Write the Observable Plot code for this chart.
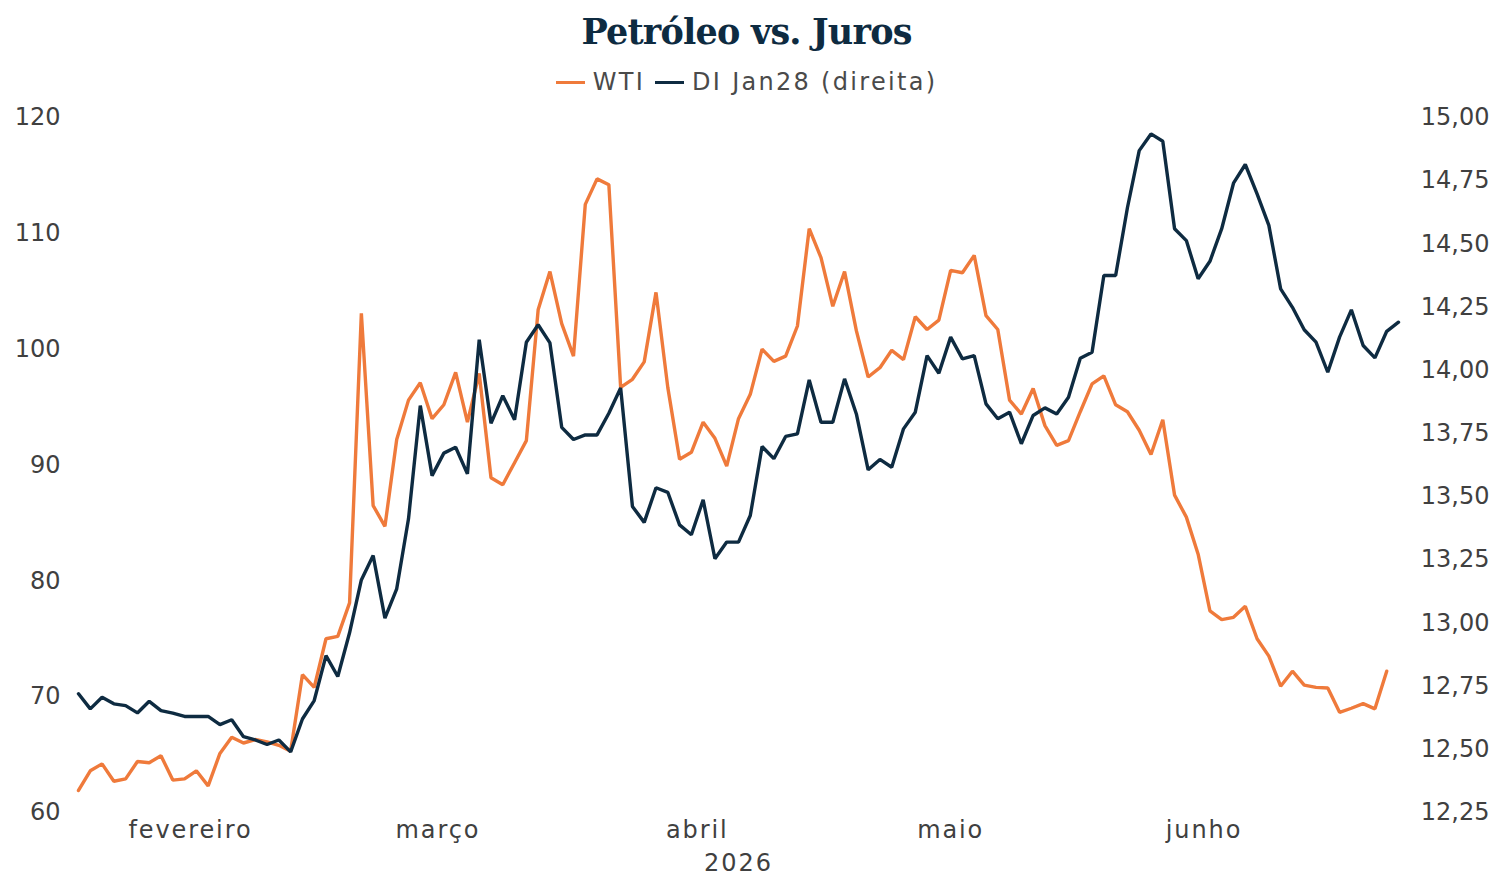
<!DOCTYPE html>
<html><head><meta charset="utf-8">
<script src="https://cdn.jsdelivr.net/npm/d3@7"></script>
<script src="https://cdn.jsdelivr.net/npm/@observablehq/plot@0.6"></script>
<style>
body{margin:0;background:#fff;width:1493px;height:875px;overflow:hidden;font-family:"DejaVu Sans",sans-serif}
#title{height:58px;box-sizing:border-box;padding-top:12px;text-align:center;font-family:"DejaVu Serif",serif;font-weight:bold;font-size:35px;line-height:40px;color:#0E2B41;letter-spacing:-0.8px}
#legend{height:42px;box-sizing:border-box;padding-top:6px;display:flex;justify-content:center;align-items:center;font-size:24px;line-height:28px;color:#4a4a4a;letter-spacing:2.3px}
.sw{display:inline-block;width:29px;height:3px;margin-right:8px;vertical-align:middle}
.item{display:flex;align-items:center;margin:0 5px}
#chart svg{display:block}
#chart g[aria-label="x-axis tick label"] text{letter-spacing:1.9px}
#chart g[aria-label="text"] text{letter-spacing:2px}
</style>
</head><body>
<div id="title">Petróleo vs. Juros</div>
<div id="legend"></div>
<div id="chart"></div>
<script>
// Series (trading days, Feb–early Jul 2026)
const wti = [61.9,63.6,64.2,62.7,62.9,64.4,64.3,64.9,62.8,62.9,
63.6,62.3,65.1,66.5,66.0,66.3,66.1,65.8,65.3,71.9,
70.8,75.0,75.2,78.1,103.1,86.5,84.7,92.2,95.6,97.1,
94.0,95.2,98.0,93.7,97.9,88.9,88.3,90.2,92.1,103.4,
106.7,102.2,99.4,112.5,114.7,114.2,96.7,97.4,98.9,104.9,
96.7,90.5,91.1,93.7,92.3,89.9,94.0,96.1,100.0,98.95,
99.4,102.0,110.4,107.9,103.7,106.7,101.6,97.6,98.4,99.9,
99.1,102.8,101.7,102.5,106.8,106.6,108.1,102.9,101.7,95.6,
94.4,96.6,93.4,91.7,92.1,94.6,97.0,97.7,95.2,94.6,
93.0,90.9,93.9,87.4,85.5,82.3,77.4,76.65,76.85,77.8,
75.0,73.5,70.9,72.2,71.0,70.8,70.75,68.65,69.0,69.4,
68.95,72.2];
const di = [12.72,12.66,12.706,12.68,12.673,12.644,12.69,12.653,12.643,12.63,
12.63,12.63,12.598,12.617,12.55,12.537,12.519,12.537,12.49,12.62,
12.693,12.871,12.788,12.961,13.17,13.267,13.019,13.135,13.412,13.86,
13.583,13.672,13.695,13.59,14.121,13.79,13.899,13.804,14.111,14.18,
14.108,13.774,13.726,13.744,13.744,13.83,13.93,13.461,13.398,13.535,
13.517,13.388,13.349,13.487,13.254,13.32,13.32,13.425,13.698,13.65,
13.738,13.748,13.962,13.794,13.794,13.966,13.827,13.606,13.647,13.616,
13.768,13.834,14.058,13.988,14.131,14.045,14.058,13.867,13.808,13.834,
13.709,13.821,13.851,13.827,13.893,14.047,14.071,14.375,14.375,14.643,
14.869,14.935,14.906,14.56,14.513,14.362,14.431,14.56,14.74,14.814,
14.698,14.573,14.322,14.249,14.16,14.111,13.992,14.131,14.239,14.098,
14.049,14.154,14.19];
const monthLabels = ["fevereiro","março","abril","maio","junho"];
const monthDays = [20,22,22,21,22];
const yearLabel = "2026";
const leftTicks = [60,70,80,90,100,110,120];
const rightTicks = [12.25,12.5,12.75,13,13.25,13.5,13.75,14,14.25,14.5,14.75,15];
const seriesNames = ["WTI","DI Jan28 (direita)"];
const colors = ["#EF7A3B","#0E2B41"];

// legend
const leg = document.getElementById("legend");
seriesNames.forEach((n,k)=>{
  const it = document.createElement("span"); it.className="item";
  it.innerHTML = `<span class="sw" style="background:${colors[k]}"></span>${n}`;
  leg.appendChild(it);
});

// month centers (category index)
let start = 0; const monthCenters = [];
monthDays.forEach(n=>{ monthCenters.push(start + (n-1)/2); start += n; });

const toLeft = d3.scaleLinear([12.25,15],[60,120]);
const wtiRows = wti.map((v,i)=>({i, v}));
const diRows = di.map((v,i)=>({i, v: toLeft(v)}));
const fmt = v => v.toFixed(2).replace(".",",");
const txt = "#404040";

const chart = Plot.plot({
  width:1493, height:775,
  marginTop:17, marginBottom:63, marginLeft:78, marginRight:95,
  x:{domain:[0, di.length-1], axis:null},
  y:{domain:[60,120], axis:null},
  style:{fontFamily:"'DejaVu Sans', sans-serif", fontSize:"24px", color:txt, background:"#fff"},
  marks:[
    Plot.axisY({anchor:"left", ticks:leftTicks, tickSize:0, tickPadding:18, label:null, fontSize:24, fill:txt}),
    Plot.axisY({anchor:"right", ticks:rightTicks.map(toLeft), tickFormat:d=>fmt(toLeft.invert(d)), tickSize:0, tickPadding:91, textAnchor:"end", label:null, fontSize:24, fill:txt}),
    Plot.axisX({ticks:monthCenters, tickFormat:d=>monthLabels[monthCenters.indexOf(d)], tickSize:0, tickPadding:8, label:null, fontSize:24, fill:txt}),
    Plot.text([yearLabel], {text:d=>d, frameAnchor:"bottom", dy:58, fontSize:24, fill:txt}),
    Plot.line(wtiRows, {x:"i", y:"v", stroke:colors[0], strokeWidth:3.4, strokeLinejoin:"miter"}),
    Plot.line(diRows, {x:"i", y:"v", stroke:colors[1], strokeWidth:3.4, strokeLinejoin:"miter"})
  ]
});
document.getElementById("chart").appendChild(chart);
</script>
</body></html>
